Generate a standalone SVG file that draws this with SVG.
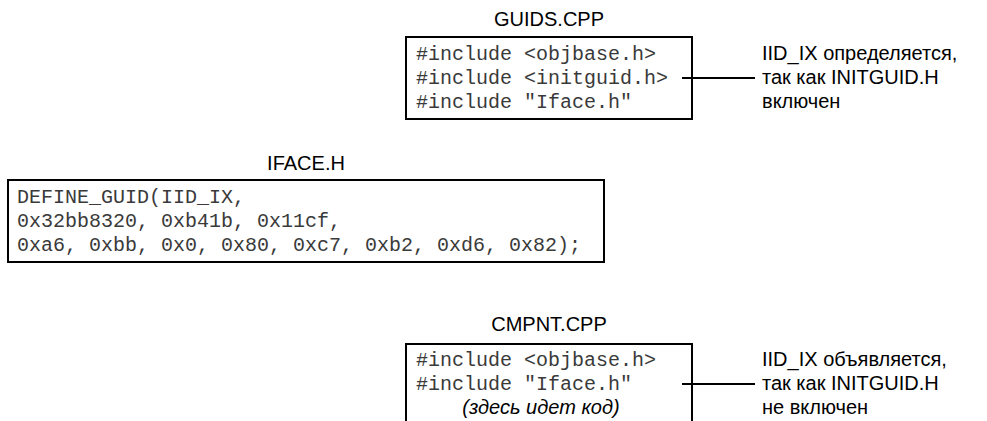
<svg xmlns="http://www.w3.org/2000/svg" width="987" height="421" viewBox="0 0 987 421">
<style>
.box{fill:#fff;stroke:#000;stroke-width:2}
.title{font-family:"Liberation Sans",Arial,sans-serif;font-size:20px;fill:#000;text-anchor:middle}
.code{font-family:"Liberation Mono","Courier New",monospace;font-size:20px;fill:#3a3a3a;white-space:pre}
.lbl{font-family:"Liberation Sans",Arial,sans-serif;font-size:20px;fill:#000}
.note{font-family:"Liberation Sans",Arial,sans-serif;font-size:20px;font-style:italic;fill:#000;text-anchor:middle}
.conn{stroke:#000;stroke-width:2;fill:none}
</style>
<rect width="987" height="421" fill="#fff"/>
<g id="guids">
<text class="title" x="549" y="26">GUIDS.CPP</text>
<rect class="box" x="406" y="37" width="286" height="82"/>
<text class="code" x="416" y="60">#include &lt;objbase.h&gt;</text>
<text class="code" x="416" y="84">#include &lt;initguid.h&gt;</text>
<text class="code" x="416" y="108">#include "Iface.h"</text>
</g>
<g id="guids-note">
<text class="lbl" x="762" y="60">IID_IX определяется,</text>
<text class="lbl" x="762" y="84">так как INITGUID.H</text>
<text class="lbl" x="762" y="108">включен</text>
</g>
<g id="iface">
<text class="title" x="306" y="170">IFACE.H</text>
<rect class="box" x="8" y="180" width="596" height="82"/>
<text class="code" x="17" y="203">DEFINE_GUID(IID_IX,</text>
<text class="code" x="17" y="227">0x32bb8320, 0xb41b, 0x11cf,</text>
<text class="code" x="17" y="251">0xa6, 0xbb, 0x0, 0x80, 0xc7, 0xb2, 0xd6, 0x82);</text>
</g>
<g id="cmpnt">
<text class="title" x="549" y="331">CMPNT.CPP</text>
<path class="box" d="M406,430 V344 H692 V430"/>
<text class="code" x="416" y="366">#include &lt;objbase.h&gt;</text>
<text class="code" x="416" y="390">#include "Iface.h"</text>
<text class="note" x="541" y="414">(здесь идет код)</text>
</g>
<g id="cmpnt-note">
<text class="lbl" x="762" y="366">IID_IX объявляется,</text>
<text class="lbl" x="762" y="390">так как INITGUID.H</text>
<text class="lbl" x="762" y="414">не включен</text>
</g>
<g id="connectors">
<line class="conn" x1="682" y1="78" x2="755" y2="78"/>
<line class="conn" x1="682" y1="384" x2="755" y2="384"/>
</g>
</svg>
